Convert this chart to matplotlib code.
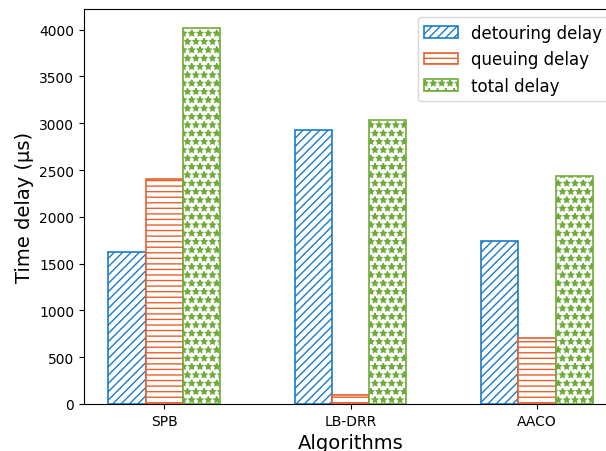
import numpy as np
import matplotlib
matplotlib.use('Agg')
import matplotlib.pyplot as plt

# data
algorithms = ['SPB', 'LB-DRR', 'AACO']
detouring = [1620, 2930, 1740]
queuing = [2400, 100, 700]
total = [4020, 3030, 2440]

c_blue = '#1a7ccc'
c_orange = '#e8602c'
c_green = '#6fab3a'

fig = plt.figure(figsize=(6.06, 4.52), dpi=100)
ax = fig.add_axes([84/606, 47/452, 533/606, 395/452])

x = np.arange(len(algorithms))
w = 0.2
ax.bar(x - w, detouring, w, color='white', edgecolor=c_blue, hatch='////', lw=1.2, label='detouring delay')
ax.bar(x, queuing, w, color='white', edgecolor=c_orange, hatch='---', lw=1.2, label='queuing delay')
ax.bar(x + w, total, w, color='white', edgecolor=c_green, hatch='**', lw=1.2, label='total delay')

ax.set_xticks(x)
ax.set_xticklabels(algorithms)
ax.set_xlabel('Algorithms', fontsize=14)
ax.set_ylabel('Time delay (μs)', fontsize=14)
ax.legend(loc='upper right', fontsize=12)

fig.savefig('out.png', dpi=100)
